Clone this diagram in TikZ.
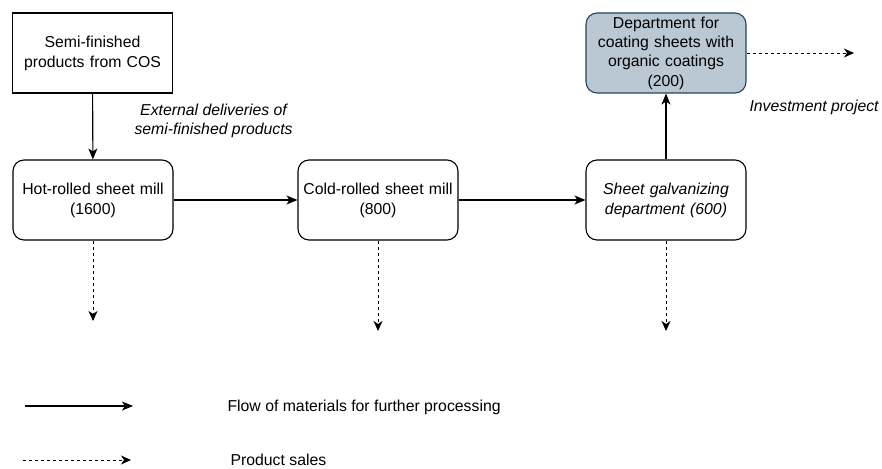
\documentclass[tikz,border=0pt]{standalone}
\usepackage{fontspec}
\setmainfont{Liberation Sans}
\usetikzlibrary{arrows.meta}
\definecolor{coatfill}{HTML}{BAC8D3}
\definecolor{coatline}{HTML}{23445D}
\tikzset{
  x=1pt, y=-1pt,
  every node/.style={font=\fontsize{15.8}{20}\selectfont, align=center},
  block/.style={draw, line width=1.1pt, minimum width=160pt, minimum height=80pt, inner sep=2pt, text width=156pt},
  rblock/.style={block, rounded corners=11pt},
  flow/.style={line width=1.1pt, -{Stealth[length=11pt,width=9pt,inset=3pt]}},
  sale/.style={line width=0.9pt, dash pattern=on 3pt off 3pt, -{Stealth[length=10pt,width=9pt,inset=3pt,line width=0.9pt]}},
  note/.style={font=\fontsize{15.8}{18.5}\selectfont\itshape}
}
\begin{document}
\begin{tikzpicture}
\useasboundingbox (0,0) rectangle (882,468);
% process units
\node[block] (cos) at (92.5,53) {Semi-finished\\products from COS};
\node[rblock] (hot) at (93,200) {Hot-rolled sheet mill\\(1600)};
\node[rblock] (cold) at (378,200) {Cold-rolled sheet mill\\(800)};
\node[rblock] (galv) at (666,200) {\itshape Sheet galvanizing\\\itshape department (600)};
\node[rblock, fill=coatfill, draw=coatline, font=\fontsize{15.8}{19.3}\selectfont] (coat) at (666,53) {Department for\\coating sheets with\\organic coatings\\(200)};
% material flow
\draw[flow] (cos) -- (hot);
\draw[flow] (hot) -- (cold);
\draw[flow] (cold) -- (galv);
\draw[flow] (galv) -- (coat);
% sales outlets
\coordinate (s1) at (93,321);
\coordinate (s2) at (378,331);
\coordinate (s3) at (666,331);
\coordinate (s4) at (854,53);
\draw[sale] (hot) -- (s1);
\draw[sale] (cold) -- (s2);
\draw[sale] (galv) -- (s3);
\draw[sale] (coat) -- (s4);
% annotations
\node[note, anchor=west] (ext) at (131,121) {External deliveries of\\semi-finished products};
\node[note, anchor=west] (inv) at (746,107) {Investment project};
% legend
\coordinate (l1a) at (25,406);
\coordinate (l1b) at (133,406);
\coordinate (l2a) at (23,460);
\coordinate (l2b) at (131,460);
\draw[flow] (l1a) -- (l1b);
\draw[sale] (l2a) -- (l2b);
\node[anchor=west] (leg1) at (224,407) {Flow of materials for further processing};
\node[anchor=west] (leg2) at (227,460) {Product sales};
\end{tikzpicture}
\end{document}
